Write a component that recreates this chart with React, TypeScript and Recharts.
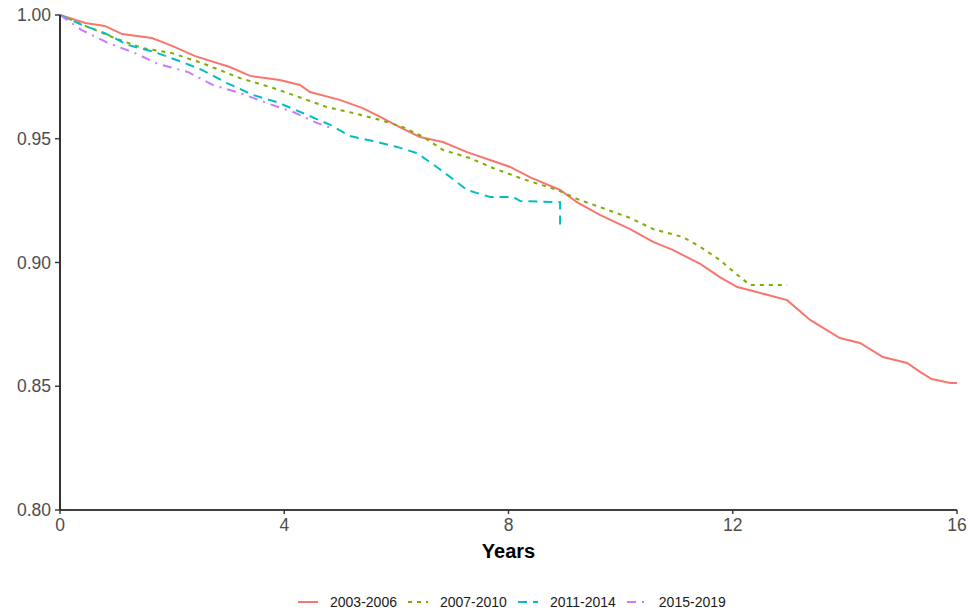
import { LineChart, Line, XAxis, YAxis, Legend } from "recharts";

// ── Data ─────────────────────────────────────────────────────────────────────

const years2003 = [0, 0.45, 0.8, 1.11, 1.64, 2.0, 2.41, 3.03, 3.39, 3.92, 4.28, 4.46, 4.99, 5.4, 5.71, 6.06, 6.42, 6.83, 7.26, 7.67, 8.03, 8.38, 8.92, 9.22, 9.63, 10.17, 10.58, 10.93, 11.42, 11.77, 12.08, 12.36, 12.97, 13.38, 13.91, 14.27, 14.68, 15.11, 15.34, 15.55, 15.88, 16.0];
const surv2003 = [1.0, 0.9968, 0.9956, 0.9923, 0.9907, 0.9875, 0.9834, 0.979, 0.9754, 0.9737, 0.9717, 0.9689, 0.9657, 0.9624, 0.9588, 0.9547, 0.9507, 0.9487, 0.9446, 0.9414, 0.9386, 0.9345, 0.9293, 0.9244, 0.9192, 0.9135, 0.9083, 0.9051, 0.8994, 0.8941, 0.8901, 0.8885, 0.8848, 0.8768, 0.8695, 0.8675, 0.8618, 0.8594, 0.8558, 0.8529, 0.8513, 0.8513];

const years2007 = [0, 0.45, 0.93, 1.46, 2.0, 2.53, 3.21, 3.75, 4.16, 4.76, 5.23, 5.71, 6.12, 6.48, 6.83, 7.31, 7.72, 8.26, 8.87, 9.22, 9.63, 10.17, 10.58, 11.11, 11.42, 11.77, 12.13, 12.31, 12.97];
const surv2007 = [1.0, 0.9956, 0.9911, 0.9867, 0.9846, 0.9806, 0.9745, 0.9709, 0.9677, 0.9628, 0.9604, 0.9576, 0.9547, 0.9507, 0.9455, 0.9422, 0.9382, 0.9337, 0.9293, 0.9257, 0.9224, 0.918, 0.9135, 0.9103, 0.9063, 0.901, 0.8941, 0.8909, 0.8909];

const years2011 = [0, 0.39, 0.8, 1.21, 1.69, 2.18, 2.53, 2.98, 3.44, 3.87, 4.33, 4.82, 5.17, 5.58, 6.01, 6.37, 6.72, 7.08, 7.26, 7.67, 8.08, 8.21, 8.92, 8.92];
const surv2011 = [1.0, 0.996, 0.9927, 0.9879, 0.985, 0.981, 0.9778, 0.9725, 0.9677, 0.9648, 0.9604, 0.9556, 0.9511, 0.9491, 0.9467, 0.9442, 0.9386, 0.9325, 0.9293, 0.9265, 0.9265, 0.9248, 0.9244, 0.9143];

const years2015 = [0, 0.39, 0.86, 1.34, 1.75, 2.28, 2.73, 3.21, 3.69, 4.16, 4.58, 4.87];
const surv2015 = [1.0, 0.9939, 0.9887, 0.9846, 0.9802, 0.977, 0.9717, 0.9685, 0.9644, 0.9608, 0.9564, 0.954];

const xTicks = [0, 4, 8, 12, 16];
const yTicks = [0.8, 0.85, 0.9, 0.95, 1.0];

// ── Helpers ──────────────────────────────────────────────────────────────────

const FONT = "'Liberation Sans', Arial, sans-serif";

function toPoints(t: number[], s: number[]) {
    return t.map((v, i) => ({ t: v, s: s[i] }));
}

const series = [
    { name: "2003-2006", color: "#F8766D", dash: undefined, data: toPoints(years2003, surv2003) },
    { name: "2007-2010", color: "#7CAE00", dash: "4 5", data: toPoints(years2007, surv2007) },
    { name: "2011-2014", color: "#00BFC4", dash: "9 6", data: toPoints(years2011, surv2011) },
    { name: "2015-2019", color: "#C77CFF", dash: "9 6 2 6", data: toPoints(years2015, surv2015) },
];

function StrataLegend() {
    return (
        <div style={{ display: "flex", alignItems: "center", paddingLeft: 298, fontFamily: FONT, fontSize: 14, color: "#1a1a1a" }}>
            {series.map((s) => (
                <div key={s.name} style={{ display: "flex", alignItems: "center", marginRight: 11 }}>
                    <svg width={20} height={10}>
                        <line x1={0} y1={5} x2={20} y2={5} stroke={s.color} strokeWidth={2} strokeDasharray={s.dash} />
                    </svg>
                    <span style={{ marginLeft: 12 }}>{s.name}</span>
                </div>
            ))}
        </div>
    );
}

// ── Main ─────────────────────────────────────────────────────────────────────

export default function App() {
    return (
        <div style={{ position: "absolute", left: 0, top: 0, background: "#fff" }}>
            <LineChart
                width={972}
                height={616}
                margin={{ top: 15, right: 15, bottom: 56, left: 0 }}
                style={{ fontFamily: FONT }}
            >
                <XAxis
                    type="number"
                    dataKey="t"
                    domain={[0, 16]}
                    ticks={xTicks}
                    allowDuplicatedCategory={false}
                    height={50}
                    tickSize={4}
                    tickMargin={5}
                    axisLine={{ stroke: "#000", strokeWidth: 1.6 }}
                    tickLine={{ stroke: "#333", strokeWidth: 1.4 }}
                    tick={{ fill: "#4d4d4d", fontSize: 17.5 }}
                    label={{ value: "Years", position: "insideBottom", offset: 2, fill: "#000", fontSize: 20, fontWeight: "bold" }}
                />
                <YAxis
                    type="number"
                    dataKey="s"
                    domain={[0.8, 1.0]}
                    ticks={yTicks}
                    width={60}
                    tickSize={5}
                    tickMargin={4}
                    tickFormatter={(v: number) => v.toFixed(2)}
                    axisLine={{ stroke: "#000", strokeWidth: 1.6 }}
                    tickLine={{ stroke: "#333", strokeWidth: 1.4 }}
                    tick={{ fill: "#4d4d4d", fontSize: 17.5 }}
                />
                {series.map((s) => (
                    <Line
                        key={s.name}
                        data={s.data}
                        dataKey="s"
                        name={s.name}
                        type="linear"
                        stroke={s.color}
                        strokeWidth={2}
                        strokeDasharray={s.dash}
                        dot={false}
                        activeDot={false}
                        isAnimationActive={false}
                    />
                ))}
                <Legend
                    layout="horizontal"
                    verticalAlign="middle"
                    align="center"
                    wrapperStyle={{ top: 594, left: 0, width: 972 }}
                    content={() => <StrataLegend />}
                />
            </LineChart>
        </div>
    );
}
